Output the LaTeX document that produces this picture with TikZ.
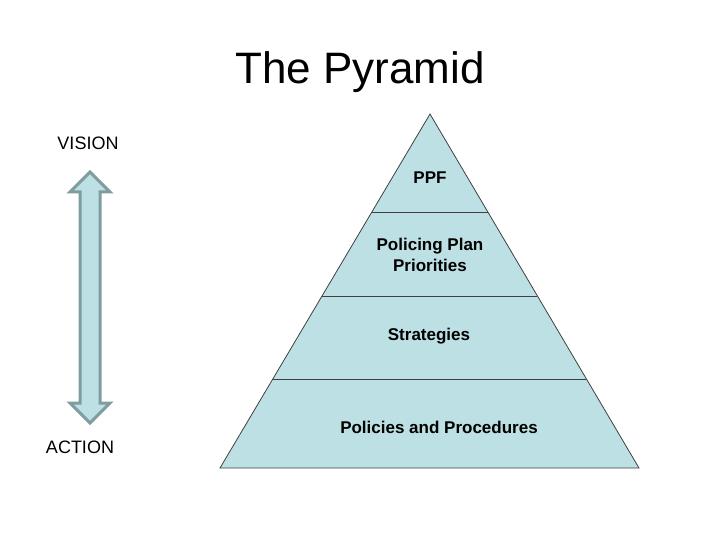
\documentclass[tikz,border=0pt]{standalone}
\usepackage{fontspec}
\setmainfont{Liberation Sans}
\usetikzlibrary{positioning,calc}
\definecolor{Ink}{HTML}{000000}
\definecolor{Edge}{HTML}{404040}
\definecolor{Pale}{HTML}{BCE0E3}
\definecolor{Steel}{HTML}{7F9C9E}
\tikzset{
 every node/.style={text=Ink,inner sep=0pt},
 layer/.style={fill=Pale,draw=Edge,line width=.8pt,line join=miter},
 rule/.style={draw=Edge,line width=.8pt},
 tier/.style={font=\fontsize{17}{21}\selectfont\bfseries,align=center},
 side/.style={font=\fontsize{18}{21}\selectfont},
 shaft/.style={fill=Pale,draw=Steel,line width=3pt,line join=miter},
 }

\begin{document}
\begin{tikzpicture}[x=1pt,y=-1pt]
 \useasboundingbox (0,0) rectangle (720,540);
 % heading
 \node[font=\fontsize{44}{48}\selectfont,anchor=base](title)at(360,84){The Pyramid};
 % pyramid outline and its dividers
 \coordinate (top) at (430,114);
 \coordinate (bl) at (220,468);
 \coordinate (br) at (639,468);
 \path[layer] (top)--(br)--(bl)--cycle;
 \foreach \y/\n in {212/a,296/b,379/c}{
  \coordinate (l\n) at ($(top)!{(\y-114)/354}!(bl)$);
  \coordinate (r\n) at ($(top)!{(\y-114)/354}!(br)$);
  \draw[rule] (l\n)--(r\n);
 }
 \node[tier](ppf)at(430,178){PPF};
 \node[tier](plan)at(430,255){Policing Plan\\Priorities};
 \node[tier](strat)at(429,336){Strategies};
 \node[tier](pol)at(439,427){Policies and Procedures};
 % vision / action scale
 \node[side,anchor=base](vision)at(88,149.5){VISION};
 \node[side,anchor=base](action)at(80,453.5){ACTION};
 \path[shaft] (90,172)--(110,192)--(100,192)--(100,403)--(110,403)--(90,423)
  --(70,403)--(80,403)--(80,192)--(70,192)--cycle;
\end{tikzpicture}
\end{document}
